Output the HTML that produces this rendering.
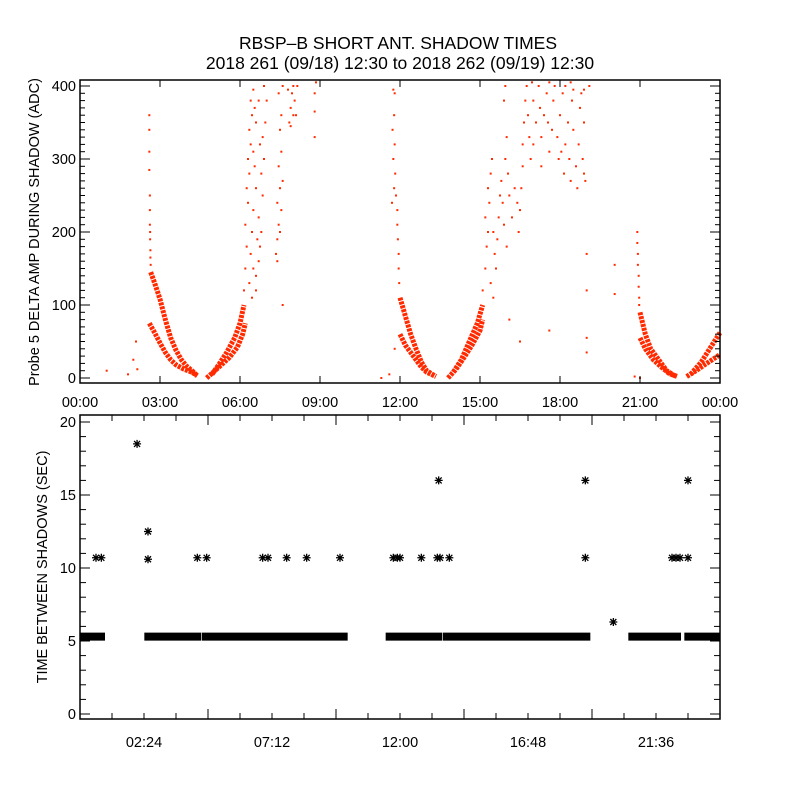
<!DOCTYPE html>
<html><head><meta charset="utf-8"><style>
body{margin:0;background:#fff}
svg text{font-family:"Liberation Sans",sans-serif;fill:#000}
</style></head><body>
<svg id="c" width="800" height="800" viewBox="0 0 800 800" xmlns="http://www.w3.org/2000/svg">
<rect width="800" height="800" fill="#fff"/>
<text x="398" y="49" font-size="17.5" text-anchor="middle">RBSP–B SHORT ANT. SHADOW TIMES</text>
<text x="400" y="69" font-size="17.5" text-anchor="middle">2018 261 (09/18) 12:30 to 2018 262 (09/19) 12:30</text>
<text transform="translate(39,232) rotate(-90)" font-size="14.5" text-anchor="middle">Probe 5 DELTA AMP DURING SHADOW (ADC)</text>
<text transform="translate(47,567) rotate(-90)" font-size="14.5" text-anchor="middle">TIME BETWEEN SHADOWS (SEC)</text>
<g id="g1"></g>
<g id="g2"></g>
</svg>
<script>
// ---- top plot data (time in hours, ADC value) ----
const topXTicks = ["00:00","03:00","06:00","09:00","12:00","15:00","18:00","21:00","00:00"];
const topYTicks = [0,100,200,300,400];
const band1u=[[2.65,145],[2.8,130],[3.0,108],[3.2,80],[3.4,55],[3.6,38],[3.8,25],[4.0,16],[4.2,10],[4.4,3]];
const band1l=[[2.6,75],[2.8,62],[3.0,48],[3.2,35],[3.4,25],[3.6,18],[3.9,12],[4.2,8],[4.4,3]];
const band2l=[[4.75,0],[5.0,8],[5.3,18],[5.6,28],[5.9,42],[6.1,60],[6.2,75]];
const band2u=[[4.95,5],[5.2,18],[5.5,35],[5.8,55],[6.0,75],[6.15,100]];
const band3u=[[12.0,110],[12.2,85],[12.4,60],[12.6,40],[12.8,22],[13.0,10],[13.3,3]];
const band3l=[[12.0,60],[12.2,45],[12.4,35],[12.6,25],[12.8,15],[13.0,8],[13.35,2]];
const band4l=[[13.8,0],[14.1,12],[14.4,28],[14.7,45],[15.0,65],[15.1,80]];
const band4u=[[14.0,8],[14.3,25],[14.6,50],[14.9,75],[15.1,100]];
const band5u=[[21.0,90],[21.2,60],[21.4,40],[21.7,25],[22.0,10],[22.3,3]];
const band5l=[[21.0,55],[21.2,40],[21.5,25],[21.8,15],[22.1,6],[22.4,2]];
const band6l=[[22.75,2],[23.1,10],[23.5,20],[24,32]];
const band6u=[[22.9,5],[23.3,22],[23.7,45],[24,62]];
const scatterA=[[6.15,120],[6.2,150],[6.25,180],[6.2,210],[6.3,240],[6.25,260],[6.35,280],[6.3,300],[6.4,320],[6.35,340],[6.45,360],[6.4,380],[6.5,395],[6.55,370],[6.6,350],[6.5,310],[6.55,290],[6.6,260],[6.5,230],[6.45,200],[6.4,170],[6.5,150],[6.6,140],[6.7,160],[6.75,180],[6.65,190],[6.8,200],[6.7,220],[6.85,250],[6.8,280],[6.9,300],[6.85,330],[6.95,350],[6.75,320],[6.7,380],[6.9,400],[7.0,380],[6.35,130],[6.45,110],[6.6,120]];
const scatterB=[[7.35,170],[7.4,190],[7.45,210],[7.4,240],[7.5,260],[7.45,290],[7.55,310],[7.5,340],[7.55,360],[7.45,390],[7.6,400],[7.4,160],[7.5,200],[7.55,230],[7.6,270],[7.85,350],[7.9,370],[7.95,390],[8.0,400],[8.05,380],[8.1,360],[7.8,395],[8.15,400],[7.9,345],[8.0,360]];
const scatterIso=[[8.8,330],[8.8,365],[8.8,390],[8.85,405],[7.6,100],[1.0,10],[2.0,25],[2.1,50],[1.8,5],[2.15,12],[11.3,0],[11.6,5],[11.8,40],[19.0,170],[19.0,120],[19.0,55],[19.0,35],[18.9,280],[20.05,155],[20.05,115],[16.5,50],[17.6,65],[16.1,80],[19.1,400],[20.8,2],[21.0,0]];
const spikes=[[2.6,360],[2.6,340],[2.6,310],[2.6,285],[2.62,250],[2.62,230],[2.62,210],[2.63,200],[2.63,190],[2.64,175],[2.64,165],[2.65,155],[11.75,395],[11.8,390],[11.78,360],[11.72,340],[11.8,320],[11.75,300],[11.82,280],[11.78,260],[11.85,250],[11.9,230],[11.9,210],[11.92,190],[11.95,170],[11.95,150],[11.97,130],[11.7,240],[20.9,200],[20.9,185],[20.92,170],[20.92,155],[20.95,140],[20.95,125],[20.97,110],[20.97,100]];
const scatterD=[[15.1,120],[15.2,150],[15.25,180],[15.3,200],[15.2,220],[15.35,240],[15.3,260],[15.4,280],[15.45,300],[15.5,200],[15.55,170],[15.6,150],[15.65,190],[15.7,220],[15.75,250],[15.8,270],[15.85,240],[15.9,210],[15.95,300],[16.0,330],[15.9,380],[15.95,400],[16.05,280],[16.1,250],[16.2,220],[16.3,260],[16.4,240],[16.45,200],[16.5,230],[15.4,130],[15.5,110],[16.0,180]];
const scatterE=[[16.55,260],[16.6,290],[16.6,320],[16.65,350],[16.7,380],[16.75,400],[16.8,360],[16.85,330],[16.9,300],[17.0,320],[17.0,380],[17.1,350],[17.2,400],[17.25,370],[17.3,330],[17.4,360],[17.5,390],[17.55,350],[17.6,310],[17.7,340],[17.75,380],[17.8,400],[17.9,330],[17.95,300],[18.0,360],[18.1,390],[18.15,280],[18.2,320],[18.3,350],[18.35,300],[18.4,270],[18.45,380],[18.5,340],[18.6,290],[18.65,260],[18.7,320],[18.75,370],[18.8,390],[18.85,300],[18.9,350],[18.95,270],[18.2,400],[17.3,290],[18.05,310],[16.95,405],[17.6,405],[18.4,405],[18.5,395],[18.9,395]];

// ---- bottom plot data ----
const botXTicks=["02:24","07:12","12:00","16:48","21:36"];
const botYTicks=[0,5,10,15,20];
const baseValue=5.3;
const baseSegments=[[0,0.9],[2.45,4.5],[4.6,10.0],[11.5,13.55],[13.65,19.1],[20.6,22.5],[22.7,24]];
const outliers=[[2.14,18.5],[2.55,12.5],[2.55,10.6],[0.6,10.7],[0.8,10.7],[4.4,10.7],[4.75,10.7],[6.85,10.7],[7.05,10.7],[7.75,10.7],[8.5,10.7],[9.75,10.7],[11.75,10.7],[11.9,10.7],[12.0,10.7],[12.8,10.7],[13.4,10.7],[13.5,10.7],[13.85,10.7],[13.45,16],[18.95,16],[18.95,10.7],[20.0,6.3],[22.2,10.7],[22.35,10.7],[22.5,10.7],[22.8,10.7],[22.8,16]];

const NS="http://www.w3.org/2000/svg";
function mk(parent,tag,attrs){const e=document.createElementNS(NS,tag);for(const k in attrs)e.setAttribute(k,attrs[k]);parent.appendChild(e);return e;}
const RED="#ff2a00";

const T={x0:80,x1:720,y0:383,y1:80};
const tx=t=>T.x0+t*(T.x1-T.x0)/24;
const ty=v=>378-v*0.73;
const g1=document.getElementById('g1');
function bandPath(arr,name){
  const p=mk(g1,'polyline',{points:arr.map(d=>tx(d[0])+','+ty(d[1])).join(' '),fill:'none',stroke:RED,'stroke-width':5,'stroke-dasharray':'3 1','stroke-linejoin':'round'});
  
  
}
[[band1u,'band-pass1-upper'],[band1l,'band-pass1-lower'],[band2l,'band-pass2-lower'],[band2u,'band-pass2-upper'],[band3u,'band-pass3-upper'],[band3l,'band-pass3-lower'],[band4l,'band-pass4-lower'],[band4u,'band-pass4-upper'],[band5u,'band-pass5-upper'],[band5l,'band-pass5-lower'],[band6l,'band-pass6-lower'],[band6u,'band-pass6-upper']].forEach(b=>bandPath(b[0],b[1]));
[scatterA,scatterB,scatterIso,spikes,scatterD,scatterE].forEach(arr=>arr.forEach(d=>{
  const r=mk(g1,'rect',{x:tx(d[0])-1,y:ty(d[1])-1,width:2,height:2,fill:RED});
  
  
}));
const f1=mk(g1,'rect',{x:T.x0,y:T.y1,width:T.x1-T.x0,height:T.y0-T.y1,fill:'none',stroke:'#000','stroke-width':1.5});


topXTicks.forEach((lab,i)=>{
  const x=tx(i*3);
  mk(g1,'line',{x1:x,x2:x,y1:T.y0,y2:T.y0-7,stroke:'#000'});
  mk(g1,'line',{x1:x,x2:x,y1:T.y1,y2:T.y1+7,stroke:'#000'});
  const t=mk(g1,'text',{x:x,y:407,'font-size':14.5,'text-anchor':'middle'});t.textContent=lab;
  
  
});
for(let v=0;v<=400;v+=10){
  const y=ty(v),L=(v%100===0)?10:5;
  mk(g1,'line',{x1:T.x0,x2:T.x0+L,y1:y,y2:y,stroke:'#000'});
  mk(g1,'line',{x1:T.x1,x2:T.x1-L,y1:y,y2:y,stroke:'#000'});
}
topYTicks.forEach(v=>{
  const t=mk(g1,'text',{x:76,y:ty(v)+5,'font-size':14.5,'text-anchor':'end'});t.textContent=v;
  
  
});

const B={x0:80,x1:720,y0:719,y1:415};
const bx=t=>B.x0+t*(B.x1-B.x0)/24;
const by=v=>714-v*14.6;
const g2=document.getElementById('g2');
baseSegments.forEach(s=>{
  const x0=Math.max(B.x0,bx(s[0])-1),x1=Math.min(B.x1,bx(s[1])+1);
  const r=mk(g2,'rect',{x:x0,y:by(baseValue)-4,width:x1-x0,height:8,fill:'#000'});
  
  
});
outliers.forEach(d=>{
  const x=bx(d[0]),y=by(d[1]);
  const s=mk(g2,'path',{d:`M${x-4},${y}H${x+4}M${x},${y-4}V${y+4}M${x-3},${y-3}L${x+3},${y+3}M${x-3},${y+3}L${x+3},${y-3}`,stroke:'#000','stroke-width':1.3});
  
  
});
const f2=mk(g2,'rect',{x:B.x0,y:B.y1,width:B.x1-B.x0,height:B.y0-B.y1,fill:'none',stroke:'#000','stroke-width':1.5});


for(let i=0;i<=20;i++){
  const x=bx(i*1.2),L=(i%4===0)?10:6;
  mk(g2,'line',{x1:x,x2:x,y1:B.y0,y2:B.y0-L,stroke:'#000'});
  mk(g2,'line',{x1:x,x2:x,y1:B.y1,y2:B.y1+L,stroke:'#000'});
}
botXTicks.forEach((lab,i)=>{
  const t=mk(g2,'text',{x:bx((i+0.5)*4.8),y:747,'font-size':14.5,'text-anchor':'middle'});t.textContent=lab;
  
  
});
for(let v=0;v<=20;v++){
  const y=by(v),L=(v%5===0)?10:6;
  mk(g2,'line',{x1:B.x0,x2:B.x0+L,y1:y,y2:y,stroke:'#000'});
  mk(g2,'line',{x1:B.x1,x2:B.x1-L,y1:y,y2:y,stroke:'#000'});
}
botYTicks.forEach(v=>{
  const t=mk(g2,'text',{x:76,y:by(v)+5,'font-size':14.5,'text-anchor':'end'});t.textContent=v;
  
  
});
</script>
</body></html>
